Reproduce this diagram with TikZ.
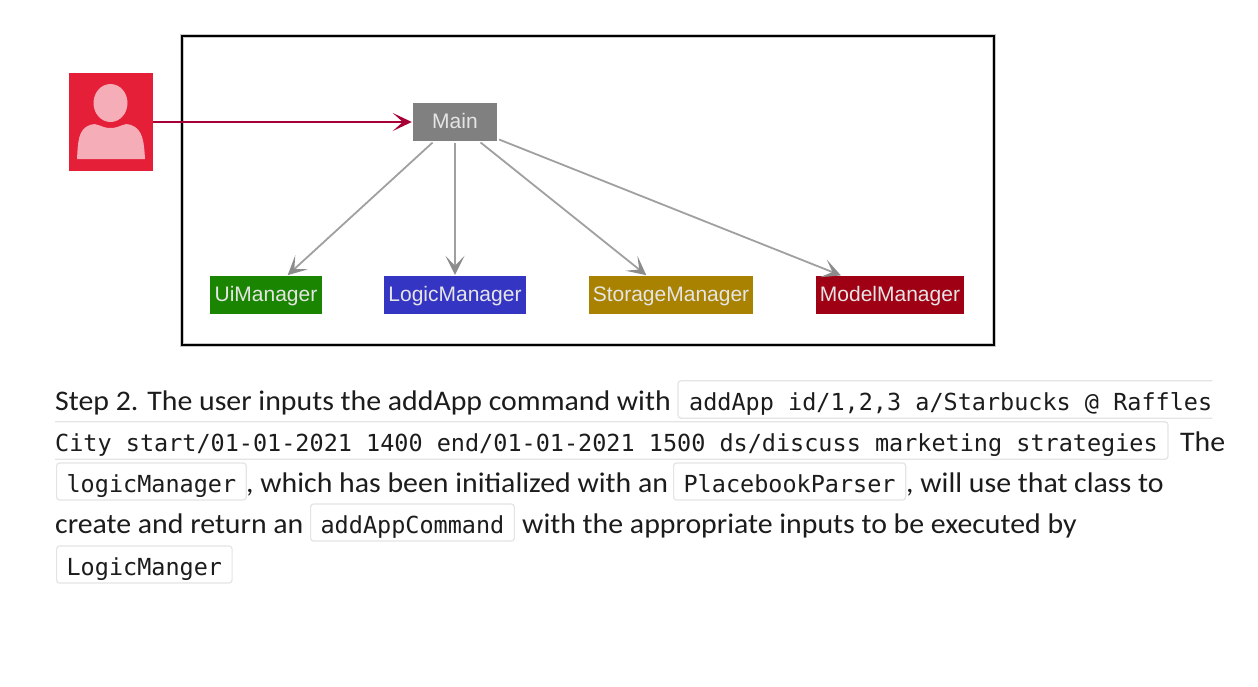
\documentclass[tikz,border=0pt]{standalone}
\usepackage{fontspec}
\setmainfont[FakeStretch=1.05]{Carlito}
\setmonofont{DejaVu Sans Mono}
\newfontfamily\umlfont{Liberation Sans}
\usetikzlibrary{arrows.meta,positioning}
\definecolor{framegray}{HTML}{C8C8C8}
\definecolor{actorred}{HTML}{E51F38}
\definecolor{actorpink}{HTML}{F5AEB8}
\definecolor{linkred}{HTML}{A80036}
\definecolor{linkgray}{HTML}{A0A0A0}
\definecolor{headgray}{HTML}{8C8C8C}
\definecolor{chipedge}{HTML}{E4E4E4}
\definecolor{inkblack}{HTML}{1C1C1C}
\tikzset{
  umlbox/.style={minimum height=38pt,inner sep=0pt,text=white!90!black,text height=17pt,text depth=3.5pt,
    font=\umlfont\fontsize{21}{22}\selectfont},
  uses/.style={linkgray,line width=1.8pt,
    -{Stealth[inset=10pt,length=19pt,width=19pt,color=headgray]},shorten >=1pt,shorten <=2pt},
  prose/.style={anchor=base west,inner sep=0pt,text=inkblack,
    font=\fontsize{28.4}{30}\selectfont},
  chiptext/.style={anchor=base west,inner ysep=0pt,text=inkblack,text height=29pt,text depth=8pt,
    font=\ttfamily\fontsize{23.48}{26}\selectfont},
  chip/.style={chiptext,draw=chipedge,line width=1.2pt,rounded corners=3pt,inner xsep=10pt},
  chipopen/.style={chiptext,inner xsep=0pt},
  chipline/.style={draw=chipedge,line width=1.2pt,rounded corners=3pt}
}
\begin{document}
\begin{tikzpicture}[x=1pt,y=-1pt]
  \useasboundingbox (0,0) rectangle (1258,686);
  \fill[white] (0,0) rectangle (1258,686);
  \node[draw=framegray,line width=4pt,minimum width=812pt,minimum height=309pt,inner sep=0pt] (frameback) at (587.5,190.5) {};
  \node[draw=black,line width=2pt,minimum width=812pt,minimum height=309pt,inner sep=0pt] (frame) at (frameback) {};
  \node[fill=actorred,minimum width=84pt,minimum height=98pt,inner sep=0pt] (actor) at (111,122) {};
  \fill[actorpink] (110.5,103) ellipse [x radius=17,y radius=19];
  \fill[actorpink] (77,159) .. controls (78,142) and (78,129) .. (90,125)
    .. controls (98,122) and (100,128) .. (110.5,128)
    .. controls (121,128) and (123,122) .. (131,125)
    .. controls (143,129) and (144,142) .. (145,159) -- cycle;
  \node[umlbox,fill=gray,minimum width=84pt] (main) at (455,122) {Main};
  \node[umlbox,fill={rgb,255:red,26;green,133;blue,0},minimum width=112pt] (ui) at (266,295) {UiManager};
  \node[umlbox,fill={rgb,255:red,53;green,53;blue,196},minimum width=142pt] (logic) at (455,295) {LogicManager};
  \node[umlbox,fill={rgb,255:red,168;green,130;blue,0},minimum width=164pt] (storage) at (671,295) {StorageManager};
  \node[umlbox,fill={rgb,255:red,160;green,0;blue,20},minimum width=148pt] (model) at (890,295) {ModelManager};
  \draw[linkred,line width=1.7pt,-{Stealth[inset=10pt,length=19pt,width=18pt]},shorten >=1pt] (actor) -- (main);
  \draw[uses] (main) -- (ui);
  \draw[uses] (main) -- (logic);
  \draw[uses] (main) -- (storage);
  \draw[uses] (main) -- (model);
  % text below the diagram
  \node[prose] (stepa) at (55,410) {Step 2. The user inputs the addApp command with};
  \node[chipopen] (cmda) at (689,410) {addApp id/1,2,3 a/Starbucks @ Raffles};
  \draw[chipline] (cmda.north east) -- ([xshift=-11pt]cmda.north west) -- ([xshift=-11pt]cmda.south west) -- (cmda.south east);
  \node[chipopen] (cmdb) at (55,451) {City start/01-01-2021 1400 end/01-01-2021 1500 ds/discuss marketing strategies};
  \draw[chipline] (cmdb.north west) -- ([xshift=10pt]cmdb.north east) -- ([xshift=10pt]cmdb.south east) -- (cmdb.south west);
  \node[prose] (thea) at (1180,451) {The};
  \node[chip] (lmgr) at (56,492) {logicManager};
  \node[prose] (stepb) at (246,492) {, which has been initialized with an};
  \node[chip] (parser) at (673,492) {PlacebookParser};
  \node[prose] (stepc) at (906,492) {, will use that class to};
  \node[prose] (stepd) at (55,533) {create and return an};
  \node[chip] (addcmd) at (310,533) {addAppCommand};
  \node[prose] (stepe) at (522,533) {with the appropriate inputs to be executed by};
  \node[chip] (lmgrb) at (56,575) {LogicManger};
\end{tikzpicture}
\end{document}
